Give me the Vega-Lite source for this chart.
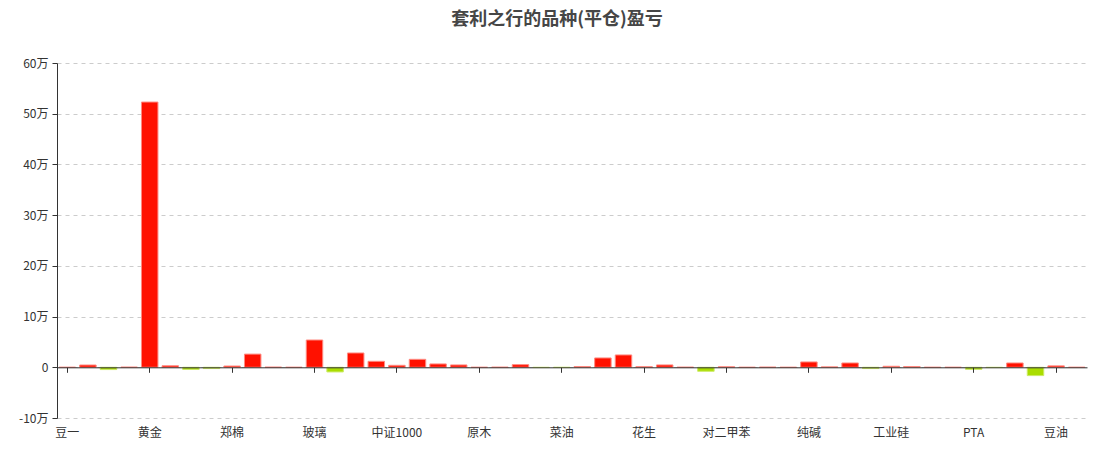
{
  "$schema": "https://vega.github.io/schema/vega-lite/v6.json",
  "width": 1030,
  "height": 355,
  "autosize": {"type": "none"},
  "padding": {"left": 57, "top": 63, "right": 7, "bottom": 32},
  "background": "white",
  "title": {
    "text": "套利之行的品种(平仓)盈亏",
    "anchor": "middle",
    "frame": "group",
    "dx": -15,
    "offset": 28,
    "fontSize": 18,
    "fontWeight": "bold",
    "color": "#464646",
    "font": "Noto Sans CJK SC"
  },
  "config": {
    "view": {"stroke": null},
    "font": "Noto Sans CJK SC"
  },
  "data": {
    "values": [
      {"name": "豆一", "pnl": 0},
      {"name": "白银", "pnl": 4500},
      {"name": "沪铜", "pnl": -4500},
      {"name": "沪铝", "pnl": 300},
      {"name": "黄金", "pnl": 523000},
      {"name": "沪锌", "pnl": 3000},
      {"name": "沪镍", "pnl": -4200},
      {"name": "螺纹钢", "pnl": -2500},
      {"name": "郑棉", "pnl": 2500},
      {"name": "热卷", "pnl": 26000},
      {"name": "铁矿石", "pnl": 300},
      {"name": "焦炭", "pnl": 0},
      {"name": "玻璃", "pnl": 53800},
      {"name": "焦煤", "pnl": -9200},
      {"name": "甲醇", "pnl": 28200},
      {"name": "沪深300", "pnl": 11800},
      {"name": "中证1000", "pnl": 3900},
      {"name": "上证50", "pnl": 15700},
      {"name": "中证500", "pnl": 6600},
      {"name": "十年国债", "pnl": 4600},
      {"name": "原木", "pnl": 0},
      {"name": "纸浆", "pnl": 200},
      {"name": "豆粕", "pnl": 5200},
      {"name": "菜粕", "pnl": -500},
      {"name": "菜油", "pnl": -300},
      {"name": "棕榈油", "pnl": 1500},
      {"name": "苹果", "pnl": 18400},
      {"name": "红枣", "pnl": 24300},
      {"name": "花生", "pnl": 1200},
      {"name": "生猪", "pnl": 4600},
      {"name": "鸡蛋", "pnl": 200},
      {"name": "原油", "pnl": -7900},
      {"name": "对二甲苯", "pnl": 1000},
      {"name": "燃料油", "pnl": 0},
      {"name": "沥青", "pnl": 300},
      {"name": "橡胶", "pnl": 0},
      {"name": "纯碱", "pnl": 10500},
      {"name": "尿素", "pnl": 800},
      {"name": "硅铁", "pnl": 8500},
      {"name": "锰硅", "pnl": -2500},
      {"name": "工业硅", "pnl": 2000},
      {"name": "碳酸锂", "pnl": 1500},
      {"name": "多晶硅", "pnl": 0},
      {"name": "乙二醇", "pnl": 0},
      {"name": "PTA", "pnl": -4000},
      {"name": "短纤", "pnl": -500},
      {"name": "塑料", "pnl": 8500},
      {"name": "聚丙烯", "pnl": -16400},
      {"name": "豆油", "pnl": 2800},
      {"name": "豆二", "pnl": 0}
    ]
  },
  "mark": {"type": "bar", "strokeWidth": 1},
  "encoding": {
    "x": {
      "field": "name",
      "type": "nominal",
      "sort": null,
      "scale": {"paddingInner": 0.2, "paddingOuter": 0.1},
      "axis": {
        "title": null,
        "values": ["豆一", "黄金", "郑棉", "玻璃", "中证1000", "原木", "菜油", "花生", "对二甲苯", "纯碱", "工业硅", "PTA", "豆油"],
        "labelAngle": 0,
        "labelFontSize": 12,
        "labelColor": "#333333",
        "labelPadding": 55,
        "offset": -50.7,
        "domainColor": "#333333",
        "tickColor": "#333333",
        "tickSize": 5,
        "zindex": 1,
        "grid": false
      }
    },
    "y": {
      "field": "pnl",
      "type": "quantitative",
      "scale": {"domain": [-100000, 600000], "nice": false, "zero": true},
      "axis": {
        "title": null,
        "values": [-100000, 0, 100000, 200000, 300000, 400000, 500000, 600000],
        "labelExpr": "datum.value == 0 ? '0' : (datum.value / 10000) + '万'",
        "labelFontSize": 12,
        "labelColor": "#333333",
        "labelPadding": 4,
        "domainColor": "#333333",
        "tickColor": "#333333",
        "tickSize": 5,
        "grid": true,
        "gridColor": "#cccccc",
        "gridDash": [4, 4]
      }
    },
    "color": {
      "condition": {"test": "datum.pnl < 0", "value": "#AADD00"},
      "value": "#FF1100"
    },
    "stroke": {
      "condition": {"test": "datum.pnl < 0", "value": "#CCEB66"},
      "value": "#FF8A80"
    }
  }
}
